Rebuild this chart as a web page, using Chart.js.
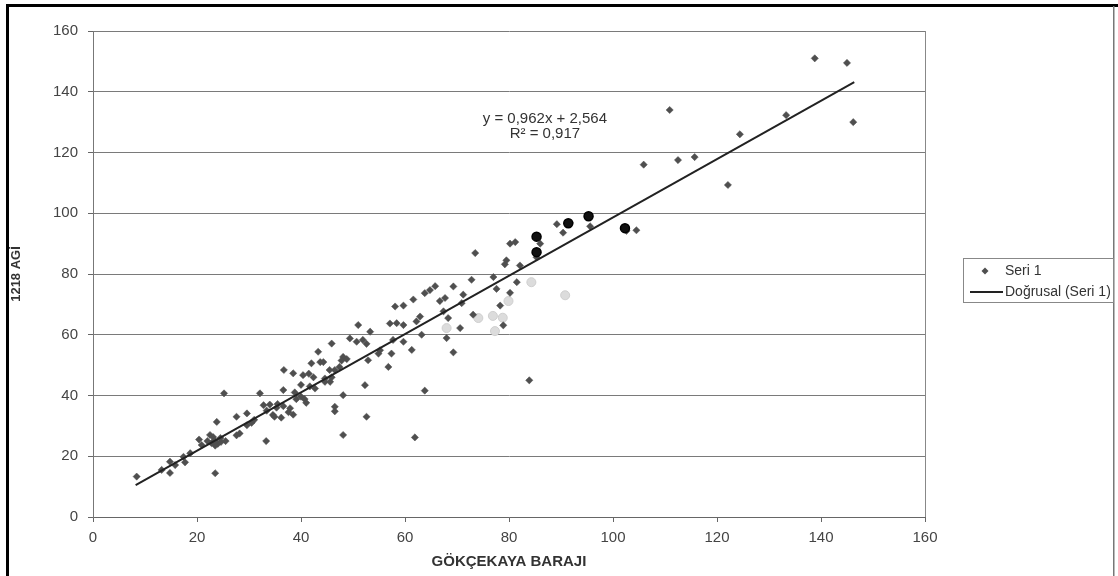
<!DOCTYPE html>
<html><head><meta charset="utf-8">
<script src="https://cdn.jsdelivr.net/npm/chart.js@4.4.1/dist/chart.umd.min.js"></script>
<style>html,body{margin:0;padding:0;background:#fff;}#wrap{width:1118px;height:576px;position:relative;}canvas{display:block;}</style>
</head><body><div id="wrap"><canvas id="c" width="1118" height="576"></canvas></div>
<script>
// ---- data ----
const seriesX = [8.4,13.2,14.8,14.8,15.8,17.4,17.7,18.7,20.4,20.9,22.5,22.8,23.1,23.4,24,24.6,22,23.5,24.5,25.5,23.5,23.8,25.2,27.6,27.6,28.2,29.6,29.6,30.5,31,32.1,32.8,33.3,33.4,34.6,35.3,36.6,34.9,36.2,34,35.5,37.6,36.6,36.7,37.9,38.5,38.5,38.8,39.1,40,40.4,40.7,41,41.5,42.4,41.7,40,42,43.3,43.7,44.3,42.7,44.6,44.6,45.6,45.9,45.9,46.5,45.5,46.5,46.5,48.1,48.1,48.1,48.8,47.8,47.4,49.4,50.7,51,51.9,52.3,52.6,52.6,52.9,53.3,54.9,55.2,56.8,57.1,57.4,57.7,58.1,58.4,
59.7,61.6,63.8,64.8,65.8,59.7,62.2,62.9,59.7,61.3,63.2,63.8,61.9,66.7,67.7,67.4,68.3,68,69.3,70.6,69.3,70.9,71.2,72.8,73.1,73.5,77,79.2,79.5,80.2,81.2,81.5,77.6,80.2,78.3,78.9,82.1,83.9,85.3,86,89.2,90.4,91.7,95.6,102.6,104.5,
105.9,110.9,112.5,115.7,122.1,124.4,133.3,138.8,145,146.2];
const seriesY = [13.3,15.5,18.2,14.5,17.1,19.8,18,21,25.5,23.7,27,24.3,26.3,25.2,24.1,24.7,25,23.5,26,25,14.4,31.3,40.7,33,26.9,27.5,34.1,30.2,31,32,40.7,36.8,25,35,33.6,36,36.5,33,32.7,37,37.2,34.5,41.8,48.4,35.8,47.3,33.7,41,38.8,39.6,46.7,38.8,37.6,47.2,46,43,43.5,50.6,54.4,51,51,42.3,45.6,44.5,44.5,46,57.1,48.4,48.4,36.3,34.8,27,40.1,52.7,52,51.5,49.4,58.8,57.7,63.2,58.3,43.4,33,57,51.6,61,53.8,54.9,49.4,63.7,53.8,58.3,69.3,63.8,
69.6,71.6,73.7,74.7,76,63.2,64.4,66,57.7,55,60,41.6,26.2,71.1,72.1,67.7,65.5,58.9,75.9,62.2,54.2,70.4,73.2,78.1,66.6,86.9,79,83.2,84.5,90,90.5,77.3,75.1,73.8,69.6,63.1,82.8,45,85.5,90,96.4,93.6,96.8,95.7,94.2,94.4,
116,134,117.5,118.5,109.3,126,132.3,151,149.5,130];
// faded (light) marks on the scan
const fadedX = [68,74.1,76.9,78.8,77.3,79.9,84.3,90.8];
const fadedY = [62.2,65.5,66.2,65.6,61.2,71.1,77.3,73];
// pen-marked (black) points on the scan
const markedX = [85.3,85.3,91.4,95.3,102.3];
const markedY = [92.3,87.2,96.7,99,95.1];
// linear trend line end points
const trendX = [8.2,146.4];
const trendY = [10.5,143.2];
const xTicks = [0,20,40,60,80,100,120,140,160];
const yTicks = [0,20,40,60,80,100,120,140,160];
const seriesName = 'Seri 1';
const trendName = 'Doğrusal (Seri 1)';
const xTitle = 'GÖKÇEKAYA BARAJI';
const yTitle = '1218 AGİ';
const eqLines = ['y = 0,962x + 2,564', 'R² = 0,917'];
const eqAnchor = {x: 86.9, y: 131.2};

const pts = (xs, ys) => xs.map((x, i) => ({x, y: ys[i]}));
const FONT = "'Liberation Sans', Arial, sans-serif";
const DOT = '#4f4f4f';

const framePlugin = {
  id: 'frame',
  beforeDraw(chart) {
    const c = chart.ctx;
    c.save();
    c.fillStyle = '#fff'; c.fillRect(0, 0, chart.width, chart.height);
    c.restore();
  },
  afterDraw(chart) {
    const c = chart.ctx;
    c.save();
    c.fillStyle = '#000';
    c.fillRect(6, 4, 1112, 3);
    c.fillRect(6, 4, 3, 572);
    c.fillStyle = '#777';
    c.fillRect(1113, 6, 1.5, 570);
    // equation text
    const xs = chart.scales.x, ys = chart.scales.y;
    const ex = xs.getPixelForValue(eqAnchor.x), ey = ys.getPixelForValue(eqAnchor.y);
    c.fillStyle = '#333';
    c.font = '15px ' + FONT;
    c.textAlign = 'center'; c.textBaseline = 'middle';
    c.fillText(eqLines[0], ex, ey);
    c.fillText(eqLines[1], ex, ey + 15);
    // legend
    c.strokeStyle = '#888'; c.lineWidth = 1;
    c.strokeRect(963.5, 258.5, 150, 44);
    const ds = chart.data.datasets;
    c.fillStyle = DOT;
    c.beginPath();
    c.moveTo(985, 267.5); c.lineTo(988.5, 271); c.lineTo(985, 274.5); c.lineTo(981.5, 271); c.closePath();
    c.fill();
    c.strokeStyle = '#222'; c.lineWidth = 2;
    c.beginPath(); c.moveTo(970, 292); c.lineTo(1003, 292); c.stroke();
    c.fillStyle = '#333';
    c.font = '14px ' + FONT;
    c.textAlign = 'left';
    c.fillText(ds[0].label, 1005, 271);
    c.fillText(ds[1].label, 1005, 292);
    c.restore();
  }
};

new Chart(document.getElementById('c'), {
  type: 'scatter',
  data: {
    datasets: [
      {label: seriesName, data: pts(seriesX, seriesY), pointStyle: 'rectRot', pointRadius: 3.6,
       backgroundColor: DOT, borderColor: DOT, borderWidth: 0.5, order: 2},
      {label: trendName, type: 'line', data: pts(trendX, trendY), showLine: true, borderColor: '#222',
       borderWidth: 2, pointRadius: 0, fill: false, order: 0},
      {label: 'faded', data: pts(fadedX, fadedY), pointStyle: 'circle', pointRadius: 4.5,
       backgroundColor: '#dcdcdc', borderColor: '#d0d0d0', borderWidth: 1, order: 3},
      {label: 'marked', data: pts(markedX, markedY), pointStyle: 'circle', pointRadius: 4.5,
       backgroundColor: '#111', borderColor: '#000', borderWidth: 1.5, order: 1}
    ]
  },
  options: {
    responsive: false, animation: false, devicePixelRatio: 1,
    layout: {padding: {top: 31, right: 193, bottom: 0, left: 0}},
    plugins: {legend: {display: false}, tooltip: {enabled: false}},
    scales: {
      x: {
        type: 'linear', min: 0, max: 160,
        afterBuildTicks: s => { s.ticks = xTicks.map(v => ({value: v})); },
        afterFit: s => { s.height = 59; },
        ticks: {color: '#444', font: {family: FONT, size: 15}, padding: 7},
        grid: {color: c => (c.tick && c.tick.value === 160) ? '#888' : 'rgba(0,0,0,0)', tickColor: '#666', tickLength: 5, lineWidth: 1},
        border: {display: true, color: '#666', width: 1},
        title: {display: true, text: xTitle, color: '#333', font: {family: FONT, size: 15, weight: 'bold'}, padding: {top: 0, bottom: 5}}
      },
      y: {
        min: 0, max: 160,
        afterBuildTicks: s => { s.ticks = yTicks.map(v => ({value: v})); },
        afterFit: s => { s.width = 93; },
        ticks: {color: '#444', font: {family: FONT, size: 15}, padding: 10},
        grid: {color: '#7a7a7a', tickColor: '#666', tickLength: 5, lineWidth: 1},
        border: {display: true, color: '#777', width: 1},
        title: {display: true, text: yTitle, color: '#333', font: {family: FONT, size: 13, weight: 'bold'}, padding: {top: 9, bottom: 0}}
      }
    }
  },
  plugins: [framePlugin]
});
</script>
</body></html>
